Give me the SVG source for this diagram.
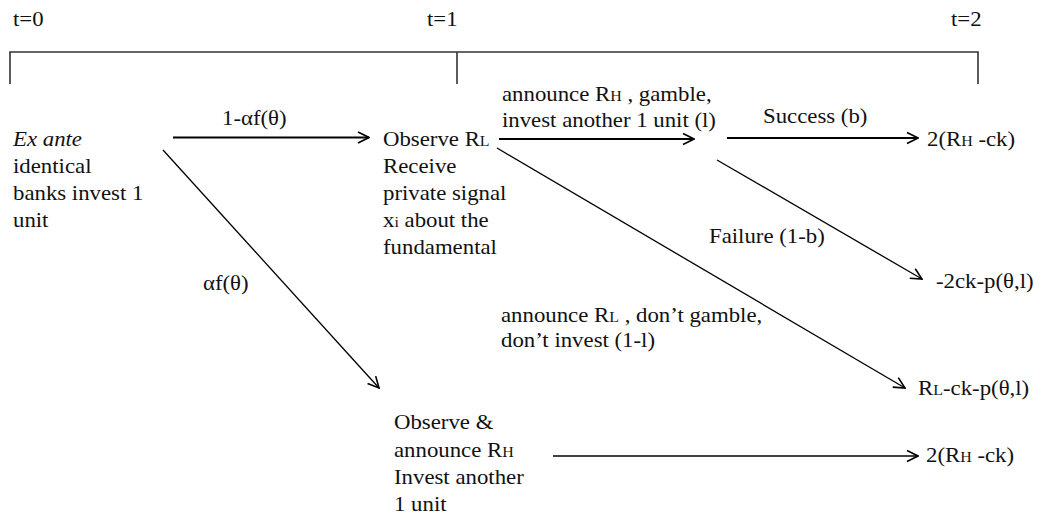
<svg xmlns="http://www.w3.org/2000/svg" width="1051" height="517" viewBox="0 0 1051 517">
<style>
text{font-family:"Liberation Serif","DejaVu Serif",serif;font-size:20px;fill:#111}
.sc{font-size:14px}
.tl{stroke:#333;stroke-width:1.6;fill:none}
.thick{stroke:#000;stroke-width:2.2;fill:none}
.thin{stroke:#000;stroke-width:1.3;fill:none}
</style>
<defs>
<marker id="ah" viewBox="0 0 14 14" refX="13" refY="7" markerWidth="14" markerHeight="14" markerUnits="userSpaceOnUse" orient="auto">
<path d="M2,1.5 L13,7 L2,12.5" fill="none" stroke="#000" stroke-width="1.6"/>
</marker>
</defs>
<rect width="1051" height="517" fill="#fff"/>
<g id="timeline">
<path class="tl" d="M10,84 V52 H978 V84 M457,52 V84"/>
<text transform="translate(13 26) scale(1.14 1)">t=0</text>
<text transform="translate(427 26) scale(1.14 1)">t=1</text>
<text transform="translate(951 26) scale(1.14 1)">t=2</text>
</g>
<g id="connectors">
<line class="thick" x1="173" y1="137.5" x2="369" y2="137.5" marker-end="url(#ah)"/>
<line class="thin" x1="163" y1="150" x2="379" y2="388" marker-end="url(#ah)"/>
<line class="thick" x1="499" y1="139" x2="694" y2="139" marker-end="url(#ah)"/>
<line class="thin" x1="497" y1="148" x2="905" y2="388" marker-end="url(#ah)"/>
<line class="thick" x1="727" y1="138" x2="918" y2="138" marker-end="url(#ah)"/>
<line class="thin" x1="717" y1="160" x2="922" y2="279" marker-end="url(#ah)"/>
<line class="thin" x1="553" y1="456" x2="918" y2="456" marker-end="url(#ah)"/>
</g>
<g id="edge-labels">
<text transform="translate(222 125) scale(1.14 1)">1-αf(θ)</text>
<text transform="translate(203 290) scale(1.14 1)">αf(θ)</text>
<text transform="translate(502 101) scale(1.14 1)">announce R<tspan class="sc">H</tspan> , gamble,</text>
<text transform="translate(502 127) scale(1.14 1)">invest another 1 unit (l)</text>
<text transform="translate(763 123) scale(1.14 1)">Success (b)</text>
<text transform="translate(709 243) scale(1.14 1)">Failure (1-b)</text>
<text transform="translate(501 322) scale(1.14 1)">announce R<tspan class="sc">L</tspan> , don’t gamble,</text>
<text transform="translate(501 347) scale(1.14 1)">don’t invest (1-l)</text>
</g>
<g id="node-start">
<text transform="translate(13 146) scale(1.14 1)" font-style="italic">Ex ante</text>
<text transform="translate(13 173) scale(1.14 1)">identical</text>
<text transform="translate(13 200) scale(1.14 1)">banks invest 1</text>
<text transform="translate(13 227) scale(1.14 1)">unit</text>
</g>
<g id="node-observe-rl">
<text transform="translate(383 146) scale(1.14 1)">Observe R<tspan class="sc">L</tspan></text>
<text transform="translate(383 173) scale(1.14 1)">Receive</text>
<text transform="translate(383 200) scale(1.14 1)">private signal</text>
<text transform="translate(383 227) scale(1.14 1)">x<tspan class="sc">i</tspan> about the</text>
<text transform="translate(383 254) scale(1.14 1)">fundamental</text>
</g>
<g id="node-observe-rh">
<text transform="translate(394 429) scale(1.14 1)">Observe &amp;</text>
<text transform="translate(394 457) scale(1.14 1)">announce R<tspan class="sc">H</tspan></text>
<text transform="translate(394 484) scale(1.14 1)">Invest another</text>
<text transform="translate(394 511) scale(1.14 1)">1 unit</text>
</g>
<g id="node-success">
<text transform="translate(927 146) scale(1.14 1)">2(R<tspan class="sc">H</tspan> -ck)</text>
</g>
<g id="node-failure">
<text transform="translate(936 288) scale(1.14 1)">-2ck-p(θ,l)</text>
</g>
<g id="node-nogamble">
<text transform="translate(918 395) scale(1.14 1)">R<tspan class="sc">L</tspan>-ck-p(θ,l)</text>
</g>
<g id="node-rh">
<text transform="translate(926 462) scale(1.14 1)">2(R<tspan class="sc">H</tspan> -ck)</text>
</g>
</svg>
